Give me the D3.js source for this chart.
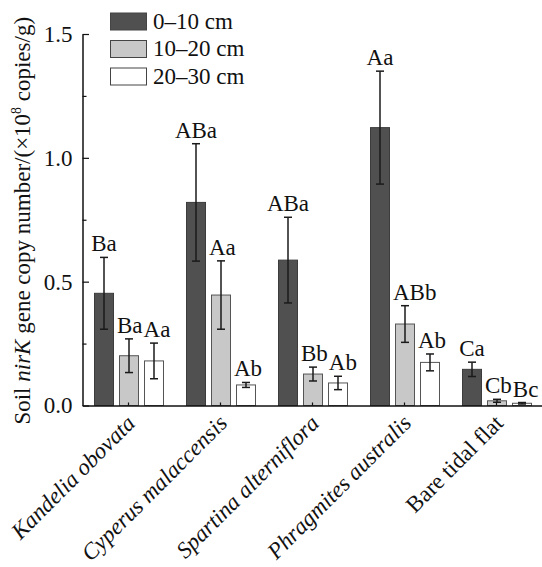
<!DOCTYPE html>
<html>
<head>
<meta charset="utf-8">
<script src="https://cdn.jsdelivr.net/npm/d3@7"></script>
</head>
<body style="margin:0">
<svg id="chart" width="542" height="567"></svg>
<script>
const categories = ["Kandelia obovata", "Cyperus malaccensis", "Spartina alterniflora", "Phragmites australis", "Bare tidal flat"];
const depths = ["0\u201310 cm", "10\u201320 cm", "20\u201330 cm"];
const means0 = [0.453, 0.820, 0.587, 1.122, 0.146];
const means1 = [0.201, 0.446, 0.127, 0.329, 0.019];
const means2 = [0.180, 0.083, 0.091, 0.174, 0.009];
const err0 = [0.145, 0.237, 0.173, 0.228, 0.029];
const err1 = [0.068, 0.138, 0.028, 0.074, 0.006];
const err2 = [0.072, 0.010, 0.027, 0.034, 0.003];
const letters0 = ["Ba", "ABa", "ABa", "Aa", "Ca"];
const letters1 = ["Ba", "Aa", "Bb", "ABb", "Cb"];
const letters2 = ["Aa", "Ab", "Ab", "Ab", "Bc"];
const yTicks = [0, 0.5, 1.0, 1.5];
const yMinorTicks = [0.25, 0.75, 1.25];

const means = [means0, means1, means2];
const errs = [err0, err1, err2];
const letters = [letters0, letters1, letters2];
const fills = ["#505050", "#c8c8c8", "#ffffff"];
const strokes = ["#3c3c3c", "#555555", "#555555"];

const FONT = '"Liberation Serif"';
const FS = 23;
const svg = d3.select("#chart");

// approximate Times-metric advance widths (em) for letter labels
const charW = { A: 0.722, B: 0.667, C: 0.667, a: 0.444, b: 0.5, c: 0.444 };
const textW = s => s.split("").reduce((acc, ch) => acc + (charW[ch] || 0.5), 0) * FS;

function txt(sel) {
  return sel.style("font-family", FONT).attr("font-size", FS).attr("fill", "#111");
}

const x0 = d3.scaleBand().domain(categories).range([82.5, 542.5]).paddingInner(0.25).paddingOuter(0.125);
const x1 = d3.scaleBand().domain(depths).range([0, 70]).paddingInner(0.2);
const y = d3.scaleLinear().domain([0, 1.5]).range([405.5, 34]);

// bars
categories.forEach((c, i) => {
  const g = svg.append("g").attr("transform", `translate(${x0(c)},0)`);
  depths.forEach((dp, j) => {
    const v = means[j][i];
    g.append("rect")
      .attr("x", x1(dp) + 0.5).attr("y", y(v))
      .attr("width", x1.bandwidth() - 1).attr("height", y(0) - y(v))
      .attr("fill", fills[j]).attr("stroke", strokes[j]).attr("stroke-width", 1);
  });
});

// error bars
const capW = 8;
categories.forEach((c, i) => {
  depths.forEach((dp, j) => {
    const v = means[j][i], e = errs[j][i];
    const cx = x0(c) + x1(dp) + x1.bandwidth() / 2;
    const lo = y(Math.max(0, v - e)), hi = y(v + e);
    const eb = svg.append("g").attr("stroke", "#1a1a1a").attr("stroke-width", 1.5);
    eb.append("line").attr("x1", cx).attr("x2", cx).attr("y1", hi).attr("y2", lo);
    eb.append("line").attr("x1", cx - capW / 2).attr("x2", cx + capW / 2).attr("y1", hi).attr("y2", hi);
    eb.append("line").attr("x1", cx - capW / 2).attr("x2", cx + capW / 2).attr("y1", lo).attr("y2", lo);
  });
});

// significance letters with simple collision avoidance
categories.forEach((c, i) => {
  let prevBarRight = -Infinity, prevBarTop = Infinity, prevLabelRight = -Infinity, prevBase = -Infinity;
  depths.forEach((dp, j) => {
    const v = means[j][i], e = errs[j][i];
    const bx = x0(c) + x1(dp);
    const cx = bx + x1.bandwidth() / 2;
    const base = y(v + e) - 6;
    const w = textW(letters[j][i]);
    let left = cx - w / 2;
    if (prevBarTop < base) left = Math.max(left, prevBarRight + 3);
    if (Math.abs(base - prevBase) < FS * 0.8) left = Math.max(left, prevLabelRight + 1);
    txt(svg.append("text")).attr("x", left).attr("y", base).text(letters[j][i]);
    prevLabelRight = left + w;
    prevBase = base;
    prevBarRight = bx + x1.bandwidth();
    prevBarTop = y(v);
  });
});

// y axis
const yAxis = svg.append("g").attr("transform", "translate(82.5,0)")
  .call(d3.axisLeft(y).tickValues(yTicks).tickFormat(d3.format(".1f")).tickSizeInner(-6.5).tickSizeOuter(0).tickPadding(10));
yAxis.attr("font-family", null).attr("font-size", null);
yAxis.select(".domain").attr("stroke", "#111").attr("stroke-width", 1.5);
yAxis.selectAll(".tick line").attr("stroke", "#111").attr("stroke-width", 1.2);
txt(yAxis.selectAll(".tick text"));

const yMinor = svg.append("g").attr("transform", "translate(82.5,0)")
  .call(d3.axisLeft(y).tickValues(yMinorTicks).tickFormat("").tickSizeInner(-4).tickSizeOuter(0));
yMinor.select(".domain").remove();
yMinor.selectAll(".tick line").attr("stroke", "#111").attr("stroke-width", 1.2);

// x axis
const xAxis = svg.append("g").attr("transform", `translate(0,${y(0)})`)
  .call(d3.axisBottom(x0).tickSizeInner(-3).tickSizeOuter(0).tickPadding(0));
xAxis.attr("font-family", null).attr("font-size", null);
xAxis.select(".domain").attr("stroke", "#111").attr("stroke-width", 1.5);
xAxis.selectAll(".tick line").attr("stroke", "#111").attr("stroke-width", 1.2);
txt(xAxis.selectAll(".tick text"))
  .style("font-style", d => d === "Bare tidal flat" ? "normal" : "italic")
  .attr("text-anchor", "end").attr("dy", null).attr("y", null)
  .attr("transform", "translate(8,19) rotate(-45)");

// y title
const title = txt(svg.append("text"))
  .attr("transform", `translate(30,${(y(0) + y(1.5)) / 2 + 1}) rotate(-90)`)
  .attr("text-anchor", "middle");
title.append("tspan").text("Soil ");
title.append("tspan").style("font-style", "italic").text("nirK");
title.append("tspan").text(" gene copy number/(\u00d710");
title.append("tspan").attr("font-size", FS * 0.6).attr("dy", -9).text("8");
title.append("tspan").attr("dy", 9).text(" copies/g)");

// legend
depths.forEach((dp, j) => {
  const top = 13 + j * 27.5;
  svg.append("rect").attr("x", 110.5).attr("y", top).attr("width", 36).attr("height", 17)
    .attr("fill", fills[j]).attr("stroke", "#444").attr("stroke-width", 1);
  txt(svg.append("text")).attr("x", 153).attr("y", top + 15.5).text(dp);
});
</script>
</body>
</html>
